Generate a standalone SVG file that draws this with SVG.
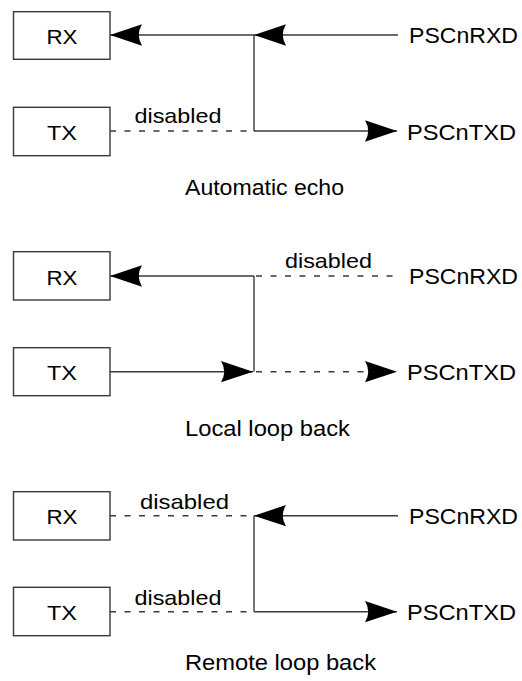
<svg xmlns="http://www.w3.org/2000/svg" width="522" height="681" viewBox="0 0 522 681">
<style>
.box{fill:#fff;stroke:#3a3a3a;stroke-width:1.4}
.ln{fill:none;stroke:#3a3a3a;stroke-width:1.4}
.ds{fill:none;stroke:#3a3a3a;stroke-width:1.4;stroke-dasharray:6 8.5}
.t{font-family:"Liberation Sans",Arial,Helvetica,sans-serif;fill:#000}
.bl{font-size:21px;text-anchor:middle}
.sig{font-size:22.5px}
.dis{font-size:21px}
.cap{font-size:22px}
</style>
<defs>
<marker id="arr" markerUnits="userSpaceOnUse" markerWidth="32" markerHeight="22" viewBox="0 0 30 20" refX="30" refY="10" orient="auto" overflow="visible">
<path d="M30,10 L0,0 Q6,10 0,20 Z" fill="#000" stroke="none"/>
</marker>
</defs>
<rect width="522" height="681" fill="#fff"/>

<g id="connectors">
<!-- Automatic echo -->
<line class="ln" x1="398" y1="35" x2="254" y2="35" marker-end="url(#arr)"/>
<line class="ln" x1="254" y1="35" x2="110" y2="35" marker-end="url(#arr)"/>
<line class="ln" x1="254" y1="35" x2="254" y2="131"/>
<line class="ln" x1="254" y1="131" x2="397" y2="131" marker-end="url(#arr)"/>
<line class="ds" x1="110" y1="131" x2="254" y2="131"/>
<!-- Local loop back -->
<line class="ln" x1="254" y1="276" x2="110" y2="276" marker-end="url(#arr)"/>
<line class="ds" x1="256" y1="276" x2="398" y2="276"/>
<line class="ln" x1="254" y1="276" x2="254" y2="371.7"/>
<line class="ln" x1="110" y1="371.7" x2="253" y2="371.7" marker-end="url(#arr)"/>
<line class="ds" x1="256" y1="371.7" x2="397" y2="371.7" marker-end="url(#arr)"/>
<!-- Remote loop back -->
<line class="ds" x1="110" y1="515.7" x2="254" y2="515.7"/>
<line class="ln" x1="398" y1="515.7" x2="254" y2="515.7" marker-end="url(#arr)"/>
<line class="ln" x1="254" y1="515.7" x2="254" y2="611.7"/>
<line class="ds" x1="110" y1="611.7" x2="254" y2="611.7"/>
<line class="ln" x1="254" y1="611.7" x2="397" y2="611.7" marker-end="url(#arr)"/>
</g>

<g id="rx1"><rect class="box" x="13.5" y="11.7" width="96.5" height="47.6"/><text class="t bl" x="62" y="44" textLength="31" lengthAdjust="spacingAndGlyphs">RX</text></g>
<g id="tx1"><rect class="box" x="13.5" y="107.3" width="96.5" height="48.4"/><text class="t bl" x="62" y="140" textLength="30" lengthAdjust="spacingAndGlyphs">TX</text></g>
<g id="prxd1"><text class="t sig" x="409" y="43" textLength="109" lengthAdjust="spacingAndGlyphs">PSCnRXD</text></g>
<g id="ptxd1"><text class="t sig" x="407" y="139.5" textLength="109" lengthAdjust="spacingAndGlyphs">PSCnTXD</text></g>
<g id="lbl1"><text class="t dis" x="134.5" y="123.3" textLength="87" lengthAdjust="spacingAndGlyphs">disabled</text>
<text class="t cap" x="185" y="195" textLength="159" lengthAdjust="spacingAndGlyphs">Automatic echo</text></g>

<g id="rx2"><rect class="box" x="13.5" y="251.7" width="96.5" height="48.3"/><text class="t bl" x="62" y="284.5" textLength="31" lengthAdjust="spacingAndGlyphs">RX</text></g>
<g id="tx2"><rect class="box" x="13.5" y="347.7" width="96.5" height="48"/><text class="t bl" x="62" y="380" textLength="30" lengthAdjust="spacingAndGlyphs">TX</text></g>
<g id="prxd2"><text class="t sig" x="409" y="284" textLength="109" lengthAdjust="spacingAndGlyphs">PSCnRXD</text></g>
<g id="ptxd2"><text class="t sig" x="407" y="380" textLength="109" lengthAdjust="spacingAndGlyphs">PSCnTXD</text></g>
<g id="lbl2"><text class="t dis" x="285" y="268.3" textLength="87" lengthAdjust="spacingAndGlyphs">disabled</text>
<text class="t cap" x="185" y="436" textLength="165" lengthAdjust="spacingAndGlyphs">Local loop back</text></g>

<g id="rx3"><rect class="box" x="13.5" y="491.7" width="96.5" height="48.3"/><text class="t bl" x="62" y="524.2" textLength="31" lengthAdjust="spacingAndGlyphs">RX</text></g>
<g id="tx3"><rect class="box" x="13.5" y="587.3" width="96.5" height="48.4"/><text class="t bl" x="62" y="620.2" textLength="30" lengthAdjust="spacingAndGlyphs">TX</text></g>
<g id="prxd3"><text class="t sig" x="409" y="523.7" textLength="109" lengthAdjust="spacingAndGlyphs">PSCnRXD</text></g>
<g id="ptxd3"><text class="t sig" x="407" y="619.7" textLength="109" lengthAdjust="spacingAndGlyphs">PSCnTXD</text></g>
<g id="lbl3"><text class="t dis" x="140" y="509" textLength="89" lengthAdjust="spacingAndGlyphs">disabled</text>
<text class="t dis" x="134.5" y="605" textLength="87" lengthAdjust="spacingAndGlyphs">disabled</text>
<text class="t cap" x="185" y="670" textLength="191" lengthAdjust="spacingAndGlyphs">Remote loop back</text></g>
</svg>
